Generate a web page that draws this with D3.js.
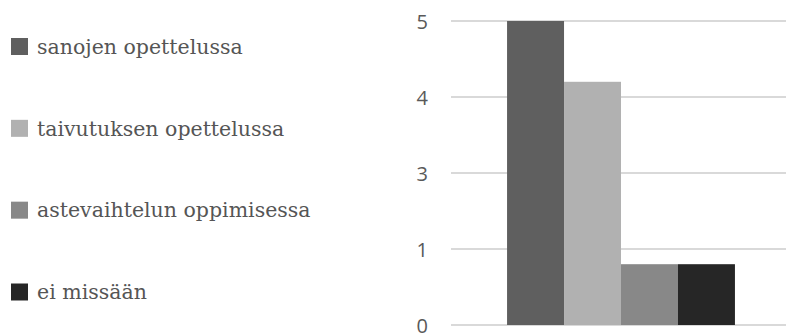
<!DOCTYPE html>
<html>
<head>
<meta charset="utf-8">
<script src="https://cdn.jsdelivr.net/npm/d3@7"></script>
<style>
  html, body { margin: 0; padding: 0; background: #fff; }
  svg { display: block; }
</style>
</head>
<body>
<svg id="chart" width="786" height="334"></svg>
<script>
// Series (one group, four answers)
const seriesNames = ["sanojen opettelussa", "taivutuksen opettelussa", "astevaihtelun oppimisessa", "ei missään"];
const seriesValues = [5, 4.2, 0.8, 0.8];
const seriesColors = ["#5f5f5f", "#b1b1b1", "#888888", "#262626"];
// Axis tick labels as printed on the value axis (evenly spaced)
const tickLabels = [0, 1, 3, 4, 5];

const svg = d3.select("#chart");

const plot = { left: 451, right: 791, top: 21, bottom: 325 };

// Value axis: the printed labels sit at equal steps, so map them piecewise
const y = d3.scaleLinear()
  .domain(tickLabels)
  .range(tickLabels.map((_, i) => plot.bottom - i * (plot.bottom - plot.top) / (tickLabels.length - 1)));

const x0 = d3.scaleBand().domain(["g"]).range([plot.left, plot.right]).paddingOuter(0.246).paddingInner(0);
const x1 = d3.scaleBand().domain(seriesNames).range([0, x0.bandwidth()]).padding(0);

// Gridlines
svg.append("g")
  .selectAll("line")
  .data(tickLabels)
  .join("line")
  .attr("x1", plot.left).attr("x2", plot.right)
  .attr("y1", d => y(d)).attr("y2", d => y(d))
  .attr("stroke", "#d9d9d9").attr("stroke-width", 2);

// Tick labels
const axis = d3.axisLeft(y).tickValues(tickLabels).tickSize(0).tickPadding(0).tickFormat(d3.format("d"));
const ag = svg.append("g").attr("transform", `translate(428,0)`).call(axis);
ag.attr("font-size", 20).attr("font-family", "'Open Sans', sans-serif");
ag.select(".domain").remove();
ag.selectAll("text").attr("fill", "#595959").attr("dy", "0.36em");

// Bars
svg.append("g")
  .attr("transform", `translate(${x0("g")},0)`)
  .selectAll("rect")
  .data(seriesNames.map((n, i) => ({ name: n, value: seriesValues[i], color: seriesColors[i] })))
  .join("rect")
  .attr("x", d => x1(d.name))
  .attr("width", x1.bandwidth())
  .attr("y", d => y(d.value))
  .attr("height", d => y(0) - y(d.value))
  .attr("fill", d => d.color);

// Legend
const legendY = d3.scalePoint().domain(seriesNames).range([46.5, 292]);
const lg = svg.append("g")
  .selectAll("g")
  .data(seriesNames.map((n, i) => ({ name: n, color: seriesColors[i] })))
  .join("g")
  .attr("transform", d => `translate(11,${legendY(d.name)})`);
lg.append("rect")
  .attr("x", 0).attr("y", -8.5)
  .attr("width", 17).attr("height", 17)
  .attr("fill", d => d.color);
lg.append("text")
  .attr("x", 26).attr("y", 0)
  .attr("dy", "0.35em")
  .attr("fill", "#555555")
  .style("font-family", "'DejaVu Serif', serif")
  .style("font-size", "20.5px")
  .text(d => d.name);
</script>
</body>
</html>
